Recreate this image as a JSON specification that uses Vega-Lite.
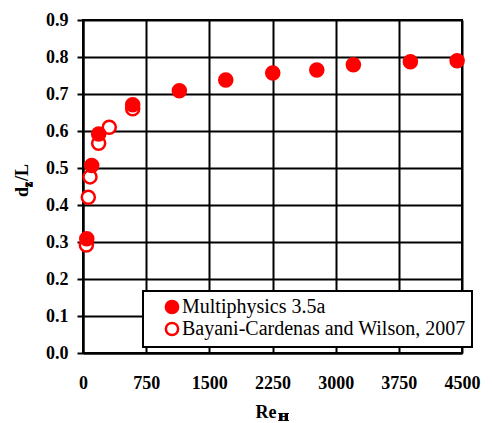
{
  "$schema": "https://vega.github.io/schema/vega-lite/v6.json",
  "width": 379,
  "height": 333,
  "autosize": {"type": "none"},
  "padding": {"left": 83, "top": 20, "right": 30, "bottom": 70},
  "background": "white",
  "config": {
    "view": {"stroke": "black", "strokeWidth": 2},
    "font": "Liberation Serif",
    "axisX": {
      "values": [0, 750, 1500, 2250, 3000, 3750, 4500],
      "tickCount": 10,
      "format": "d",
      "grid": true, "gridColor": "black", "gridWidth": 2, "gridOpacity": 1,
      "domainColor": "black", "domainWidth": 2,
      "ticks": false, "tickSize": 0,
      "labelFont": "Liberation Serif", "labelFontSize": 18, "labelFontWeight": "bold", "labelColor": "black",
      "labelBaseline": "middle", "labelPadding": 30, "labelFlush": false, "labelOverlap": false,
      "titleFont": "Liberation Serif", "titleFontSize": 18, "titleFontWeight": "bold", "titleColor": "black",
      "titleX": 182.5, "titleY": 64, "titleBaseline": "alphabetic", "titleAlign": "center"
    },
    "axisY": {
      "tickCount": 12,
      "format": ".1f",
      "grid": true, "gridColor": "black", "gridWidth": 2, "gridOpacity": 1,
      "domainColor": "black", "domainWidth": 2,
      "tickColor": "black", "tickWidth": 2, "tickSize": 6,
      "labelFont": "Liberation Serif", "labelFontSize": 18, "labelFontWeight": "bold", "labelColor": "black",
      "labelPadding": 9, "labelOverlap": false, "labelFlush": false,
      "titleFont": "Liberation Serif", "titleFontSize": 18, "titleFontWeight": "bold", "titleColor": "black",
      "titleX": -56, "titleY": 160, "titleAngle": 270, "titleBaseline": "alphabetic", "titleAlign": "center"
    }
  },
  "data": {
    "values": [
      {"series": "Bayani-Cardenas and Wilson, 2007", "Re": 40, "dzL": 0.292},
      {"series": "Bayani-Cardenas and Wilson, 2007", "Re": 63, "dzL": 0.421},
      {"series": "Bayani-Cardenas and Wilson, 2007", "Re": 83, "dzL": 0.476},
      {"series": "Bayani-Cardenas and Wilson, 2007", "Re": 186, "dzL": 0.567},
      {"series": "Bayani-Cardenas and Wilson, 2007", "Re": 312, "dzL": 0.61},
      {"series": "Bayani-Cardenas and Wilson, 2007", "Re": 590, "dzL": 0.66},
      {"series": "Multiphysics 3.5a", "Re": 45, "dzL": 0.309},
      {"series": "Multiphysics 3.5a", "Re": 103, "dzL": 0.507},
      {"series": "Multiphysics 3.5a", "Re": 186, "dzL": 0.592},
      {"series": "Multiphysics 3.5a", "Re": 590, "dzL": 0.671},
      {"series": "Multiphysics 3.5a", "Re": 1144, "dzL": 0.709},
      {"series": "Multiphysics 3.5a", "Re": 1695, "dzL": 0.738},
      {"series": "Multiphysics 3.5a", "Re": 2253, "dzL": 0.757},
      {"series": "Multiphysics 3.5a", "Re": 2776, "dzL": 0.765},
      {"series": "Multiphysics 3.5a", "Re": 3210, "dzL": 0.779},
      {"series": "Multiphysics 3.5a", "Re": 3887, "dzL": 0.787},
      {"series": "Multiphysics 3.5a", "Re": 4442, "dzL": 0.79}
    ]
  },
  "layer": [
    {
      "mark": {"type": "point", "shape": "circle", "filled": true, "stroke": "#ff0000", "strokeWidth": 2.5, "opacity": 1, "size": 170},
      "encoding": {
        "x": {
          "field": "Re", "type": "quantitative",
          "scale": {"domain": [0, 4500], "nice": false, "zero": false},
          "axis": {"title": "Re", "values": [0, 750, 1500, 2250, 3000, 3750, 4500]}
        },
        "y": {
          "field": "dzL", "type": "quantitative",
          "scale": {"domain": [0, 0.9], "nice": false, "zero": false},
          "axis": {"title": "d\u00a0\u200a/L", "values": [0, 0.1, 0.2, 0.3, 0.4, 0.5, 0.6, 0.7, 0.8, 0.9]}
        },
        "fill": {
          "field": "series", "type": "nominal",
          "scale": {"domain": ["Multiphysics 3.5a", "Bayani-Cardenas and Wilson, 2007"], "range": ["#ff0000", "#ffffff"]},
          "legend": {
            "orient": "none", "legendX": 60, "legendY": 271, "title": null,
            "fillColor": "white", "strokeColor": "black", "padding": 6,
            "symbolType": "circle", "symbolSize": 150, "symbolStrokeColor": "#ff0000", "symbolStrokeWidth": 2.5, "symbolOpacity": 1,
            "labelFont": "Liberation Serif", "labelFontSize": 20, "labelColor": "black", "labelOffset": 0, "labelLimit": 500,
            "rowPadding": -4, "symbolOffset": 13,
            "encode": {"legend": {"update": {"strokeWidth": {"value": 2}}}}
          }
        }
      }
    },
    {
      "mark": {"type": "text", "text": "H", "font": "Liberation Serif", "fontSize": 13, "fontWeight": "bold", "color": "black", "baseline": "alphabetic", "align": "center"},
      "encoding": {
        "x": {"datum": 2381, "type": "quantitative", "axis": {"title": "Re", "values": [0, 750, 1500, 2250, 3000, 3750, 4500]}},
        "y": {"datum": -0.183, "type": "quantitative", "axis": {"title": "d\u00a0\u200a/L", "values": [0, 0.1, 0.2, 0.3, 0.4, 0.5, 0.6, 0.7, 0.8, 0.9]}}
      }
    },
    {
      "mark": {"type": "text", "text": "z", "font": "Liberation Serif", "fontSize": 12, "fontWeight": "bold", "color": "black", "baseline": "alphabetic", "align": "center", "angle": 270},
      "encoding": {
        "x": {"datum": -605, "type": "quantitative", "axis": {"title": "Re", "values": [0, 750, 1500, 2250, 3000, 3750, 4500]}},
        "y": {"datum": 0.455, "type": "quantitative", "axis": {"title": "d\u00a0\u200a/L", "values": [0, 0.1, 0.2, 0.3, 0.4, 0.5, 0.6, 0.7, 0.8, 0.9]}}
      }
    }
  ]
}
